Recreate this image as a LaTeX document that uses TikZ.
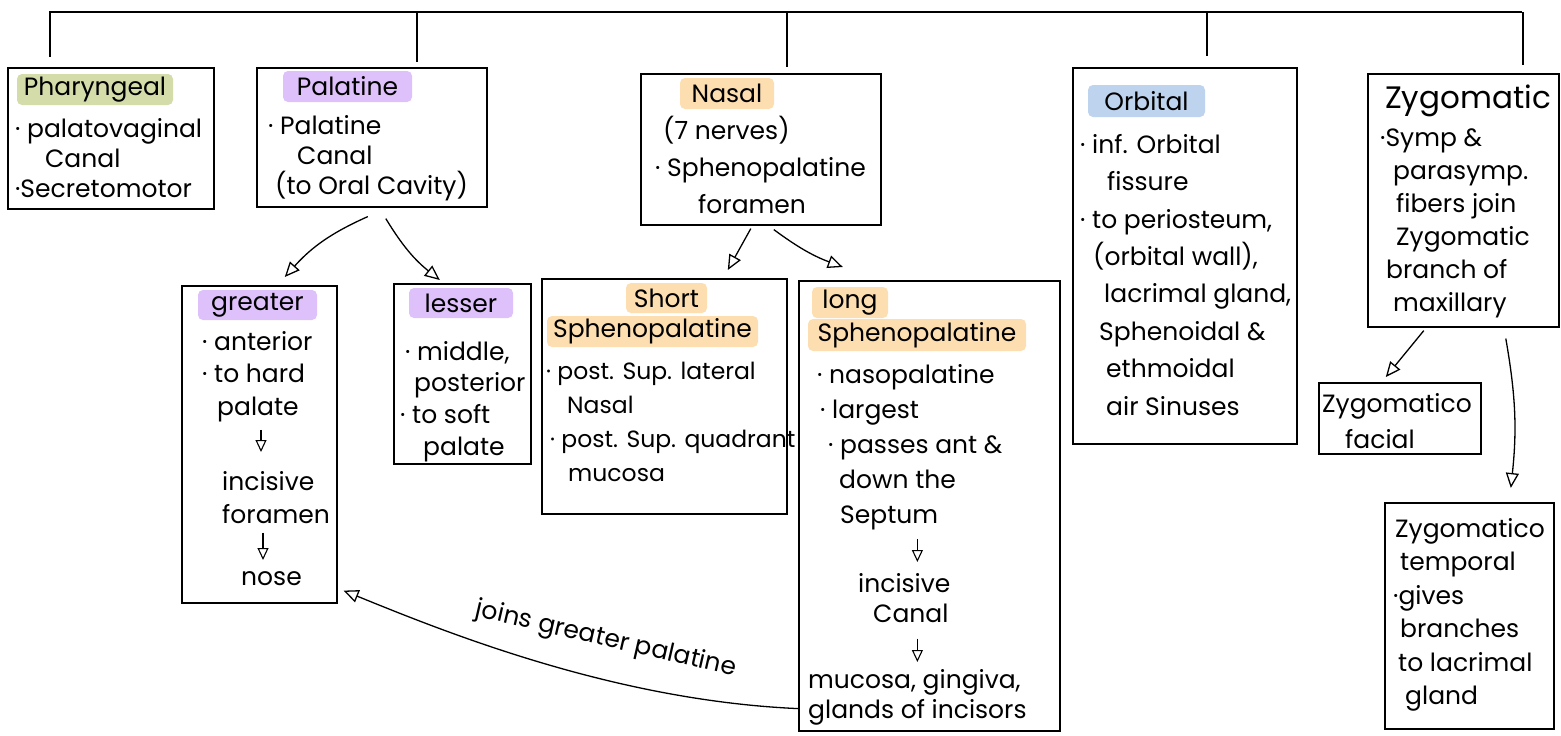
\documentclass[tikz,border=0pt]{standalone}
\usepackage{fontspec}
\setmainfont{Poppins}
\usetikzlibrary{arrows.meta}
\usetikzlibrary{calc}
\usetikzlibrary{positioning}

\definecolor{tagGreen}{RGB}{212,220,170}
\definecolor{tagPurple}{RGB}{222,192,250}
\definecolor{tagOrange}{RGB}{253,222,176}
\definecolor{tagBlue}{RGB}{189,211,238}

\tikzset{
  panel/.style={draw, line width=1.6pt, anchor=north west, inner sep=0pt},
  tag/.style={fill=#1, rounded corners=5pt, inner sep=0pt, font=\fontsize{25}{30}\selectfont},
  notes/.style={anchor=north west, align=left, inner sep=0pt, font=\fontsize{25}{#1}\selectfont},
  notes/.default=31,
  branch/.style={line width=1.3pt, -{Triangle[open, length=15pt, width=13pt]}},
  hop/.style={line width=1.1pt, -{Triangle[open, length=12pt, width=11pt]}}
}

\begin{document}
\begin{tikzpicture}[x=1pt, y=-1pt]
  \fill[white] (0,0) rectangle (1561,736);
  \useasboundingbox (0,0) rectangle (1561,736);

  % boxes
  \foreach \name/\x/\y/\w/\h in {
    phar/7/67/206/141,
    pal/256/67/230/139,
    nasal/640/73/240/151,
    orb/1072/67/224/376,
    zyg/1367/73/191/253,
    greater/181/285/155/317,
    lesser/393/283/137/180,
    short/541/278/245/235,
    long/798/280/261/450,
    zfac/1318/382/162/71,
    ztemp/1384/502/169/226
  }{
    \node[panel, minimum width=\w pt, minimum height=\h pt] (\name) at (\x,\y) {};
  }

  % highlighted headings
  \foreach \name/\cx/\cy/\w/\h/\col/\txt in {
    pharT/95/89.5/156/31/tagGreen/Pharyngeal,
    palT/347.5/86.5/129/31/tagPurple/Palatine,
    nasT/727/93.5/94/31/tagOrange/Nasal,
    orbT/1146.5/101/117/32/tagBlue/Orbital,
    greaterT/257.5/305/119/30/tagPurple/greater,
    lesserT/461/303/104/30/tagPurple/lesser,
    shortT/666.5/298/81/30/tagOrange/Short,
    shortS/652.5/331.5/211/31/tagOrange/Sphenopalatine,
    longT/850/302.5/76/31/tagOrange/long,
    longS/917/335/218/32/tagOrange/Sphenopalatine
  }{
    \node[tag=\col, minimum width=\w pt, minimum height=\h pt] (\name) at (\cx,\cy) {\txt};
  }
  \node[anchor=base west, inner sep=0pt, font=\fontsize{31}{36}\selectfont] (zygT) at (1385,108) {Zygomatic};

  % top bar and drops
  \draw[line width=1.8pt] (49,12) coordinate (barL) -- (1522,12) coordinate (barR);
  \foreach \name/\dx/\gap in {phar/-61/10, pal/45/5, nasal/26/6, orb/22/11, zyg/59.5/8}{
    \draw[line width=1.5pt] ([xshift=\dx pt]\name.north |- barL) -- ([xshift=\dx pt, yshift=\gap pt]\name.north);
  }

  % notes
  \node[notes=30] (pharN) at (15,118) {· palatovaginal\\\hspace*{30pt}Canal\\·Secretomotor};
  \node[notes=30] (palN) at (268,115) {· Palatine\\\hspace*{29pt}Canal\\\hspace*{7pt}(to Oral Cavity)};
  \node[notes=37] (nasN) at (655,116) {\hspace*{8pt}(7 nerves)\\· Sphenopalatine\\\hspace*{43pt}foramen};
  \node[notes=37.4] (orbN) at (1080,134) {· inf. Orbital\\\hspace*{27pt}fissure\\· to periosteum,\\\hspace*{13pt}(orbital wall),\\\hspace*{24pt}lacrimal gland,\\\hspace*{19pt}Sphenoidal \&\\\hspace*{26pt}ethmoidal\\\hspace*{26pt}air Sinuses};
  \node[notes=33] (zygN) at (1380,129) {·Symp \&\\\hspace*{13pt}parasymp.\\\hspace*{16pt}fibers join\\\hspace*{16pt}Zygomatic\\\hspace*{6pt}branch of\\\hspace*{13pt}maxillary};
  \node[notes=36] (zfacN) at (1322,393) {Zygomatico\\\hspace*{23pt}facial};
  \node[notes=33.5] (ztempN) at (1393,518) {\hspace*{2pt}Zygomatico\\\hspace*{7pt}temporal\\·gives\\\hspace*{7pt}branches\\\hspace*{5pt}to lacrimal\\\hspace*{12pt}gland};
  \node[notes=32.5] (g1) at (202,331) {· anterior\\· to hard\\\hspace*{15pt}palate};
  \node[notes=33] (g2) at (222,471) {incisive\\foramen};
  \node[notes] (g3) at (241,571) {nose};
  \node[notes=31.7] (lesN) at (400,341) {\hspace*{5pt}· middle,\\\hspace*{14pt}posterior\\· to soft\\\hspace*{23pt}palate};
  \node[notes=34, font=\fontsize{23.5}{34}\selectfont] (shortN) at (546,362) {· post. Sup. lateral\\\hspace*{21pt}Nasal\\\hspace*{4pt}· post. Sup. quadrant\\\hspace*{22pt}mucosa};
  \node[notes=35] (l1) at (817,364) {· nasopalatine\\\hspace*{3pt}· largest\\\hspace*{11pt}· passes ant \&\\\hspace*{22pt}down the\\\hspace*{23pt}Septum};
  \node[notes=30] (l2) at (858,573) {incisive\\\hspace*{15pt}Canal};
  \node[notes=30] (l3) at (808,669) {mucosa, gingiva,\\glands of incisors};

  % small arrows inside boxes
  \draw[hop, shorten <=8pt, shorten >=19pt] ([xshift=20pt]g1.south -| g3.west) -- ([xshift=20pt]g2.north -| g3.west);
  \draw[hop, shorten <=9pt, shorten >=11pt] ([xshift=22pt]g2.south -| g3.west) -- ([xshift=22pt]g3.north -| g3.west);
  \draw[hop, shorten <=9pt, shorten >=11pt] (l1.south -| l3.north) -- (l2.north -| l3.north);
  \draw[hop, shorten <=16pt, shorten >=7pt] (l2.south -| l3.north) -- (l3.north);

  % branches
  \draw[branch] ([xshift=-4pt,yshift=-9pt]pal.south) to[bend right=12] ([xshift=25.5pt,yshift=8pt]greater.north);
  \draw[branch] ([xshift=14pt,yshift=-11pt]pal.south) to[bend right=10] ([xshift=-22.5pt,yshift=3pt]lesser.north);
  \draw[branch] ([xshift=-10pt,yshift=-3pt]nasal.south) -- ([xshift=63.5pt,yshift=8pt]short.north);
  \draw[branch] ([xshift=13pt,yshift=-4pt]nasal.south) to[bend right=8] ([xshift=-86.5pt,yshift=13pt]long.north);
  \draw[branch] ([xshift=-39.5pt,yshift=-3pt]zyg.south) -- ([xshift=-14pt,yshift=5pt]zfac.north);
  \draw[branch] ([xshift=42.5pt,yshift=-11pt]zyg.south) to[bend left=8] ([xshift=41.5pt,yshift=14pt]ztemp.north);
  \draw[branch] ([yshift=23pt]long.south west) .. controls +(-180,-8) and +(110,45) .. ([xshift=6pt,yshift=13pt]greater.south east);
  \node[inner sep=0pt, rotate=-13, font=\fontsize{25}{30}\selectfont] (joinsN) at (606,640) {joins greater palatine};
\end{tikzpicture}
\end{document}
